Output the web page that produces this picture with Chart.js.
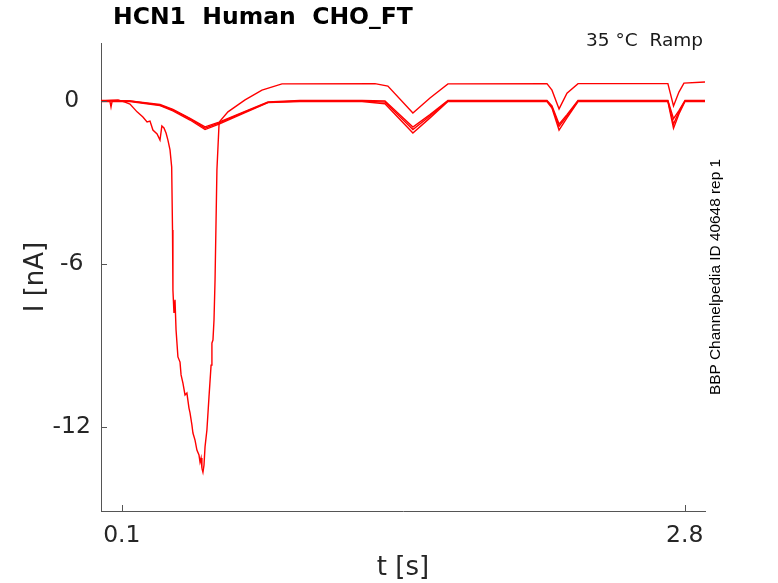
<!DOCTYPE html>
<html lang="en">
<head>
    <meta charset="UTF-8">
    <title>HCN1 Human CHO_FT</title>
    <script src="https://cdn.jsdelivr.net/npm/chart.js"></script>
    <style>
        html, body {
            margin: 0;
            padding: 0;
            background: #ffffff;
        }

        #plot {
            display: block;
        }
    </style>
</head>
<body>
    <canvas id="plot" width="778" height="583"></canvas>

    <script>
        // Trace with the big inward spike, later sitting above zero
        const tSpike = [0, 0.082, 0.115, 0.139, 0.173, 0.201, 0.221, 0.235, 0.249, 0.269,
            0.283, 0.292, 0.302, 0.312, 0.321, 0.331, 0.339, 0.343, 0.345, 0.350,
            0.355, 0.360, 0.369, 0.379, 0.384, 0.393, 0.403, 0.412, 0.422, 0.427,
            0.436, 0.441, 0.451, 0.460, 0.470, 0.475, 0.480, 0.484, 0.489, 0.494,
            0.499, 0.508, 0.518, 0.528, 0.532, 0.537, 0.542, 0.547, 0.556, 0.566,
            0.571, 0.609, 0.691, 0.772, 0.868, 1.314, 1.376, 1.496, 1.578, 1.664,
            2.139, 2.163, 2.197, 2.235, 2.288, 2.719, 2.746, 2.772, 2.796, 2.897];
        const iSpike = [0, 0.04, -0.04, -0.11, -0.40, -0.59, -0.77, -0.74, -1.07, -1.21,
            -1.44, -0.92, -0.99, -1.18, -1.44, -1.80, -2.43, -4.75, -6.96, -7.80,
            -7.32, -8.43, -9.42, -9.61, -10.08, -10.38, -10.82, -10.75, -11.30, -11.48,
            -11.92, -12.22, -12.48, -12.85, -13.03, -13.29, -13.14, -13.51, -13.66, -13.40,
            -12.73, -12.11, -10.89, -9.72, -8.91, -8.80, -8.06, -6.59, -2.54, -0.88,
            -0.74, -0.40, 0.04, 0.40, 0.63, 0.64, 0.55, -0.44, 0.11, 0.63,
            0.64, 0.40, -0.29, 0.29, 0.64, 0.64, -0.18, 0.33, 0.66, 0.70];

        // Three repeats that settle back at zero
        const tRep = [0, 0.043, 0.048, 0.053, 0.139, 0.283, 0.345, 0.427, 0.499, 0.566,
            0.691, 0.801, 0.954, 1.252, 1.362, 1.496, 1.578, 1.664, 2.139, 2.163,
            2.197, 2.235, 2.288, 2.719, 2.746, 2.772, 2.801, 2.897];
        const iRep1 = [0.02, 0.02, 0.02, 0.02, 0, -0.13, -0.31, -0.64, -0.95, -0.78,
            -0.38, -0.03, 0.02, 0.02, 0, -0.96, -0.50, 0.02, 0.02, -0.18,
            -0.85, -0.50, 0.02, 0.02, -0.65, -0.35, 0.02, 0.02];
        const iRep2 = [0, 0, 0, 0, 0, -0.15, -0.33, -0.66, -1.00, -0.81,
            -0.40, -0.05, 0, 0, -0.04, -1.05, -0.55, 0, 0, -0.22,
            -0.93, -0.55, 0, 0, -0.85, -0.40, 0, 0];
        const iRep3 = [-0.02, -0.02, -0.22, -0.02, -0.02, -0.17, -0.36, -0.70, -1.05, -0.85,
            -0.43, -0.06, -0.02, -0.02, -0.10, -1.18, -0.62, -0.02, -0.02, -0.26,
            -1.07, -0.62, -0.02, -0.02, -1.00, -0.48, -0.02, -0.02];

        const xTicks = [0.1, 2.8];
        const xTickLabels = ['0.1', '2.8'];
        const yTicks = [-12, -6, 0];
        const yTickLabels = ['-12', '-6', '0'];

        const chartTitle = 'HCN1  Human  CHO_FT';
        const conditionText = '35 °C  Ramp';
        const sourceText = 'BBP Channelpedia ID 40648 rep 1';

        const toPoints = (ts, vs) => ts.map((t, i) => ({ x: t, y: vs[i] }));

        const traceStyle = {
            borderColor: '#ff0000',
            borderWidth: 1.4,
            pointRadius: 0,
            fill: false,
            tension: 0
        };

        // MATLAB style inward ticks and the loose text around the axes
        const decorations = {
            id: 'decorations',
            afterDraw(chart) {
                const ctx = chart.ctx;
                const { left, right, top, bottom } = chart.chartArea;
                const xs = chart.scales.x;
                const ys = chart.scales.y;

                ctx.save();
                ctx.strokeStyle = '#555555';
                ctx.lineWidth = 1;
                xTicks.forEach(v => {
                    const px = Math.round(xs.getPixelForValue(v)) + 0.5;
                    ctx.beginPath();
                    ctx.moveTo(px, bottom);
                    ctx.lineTo(px, bottom - 6);
                    ctx.stroke();
                });
                yTicks.forEach(v => {
                    const py = Math.round(ys.getPixelForValue(v)) + 0.5;
                    ctx.beginPath();
                    ctx.moveTo(left, py);
                    ctx.lineTo(left + 6, py);
                    ctx.stroke();
                });

                ctx.fillStyle = '#000000';
                ctx.font = 'bold 23.5px "DejaVu Sans"';
                ctx.textAlign = 'left';
                ctx.textBaseline = 'middle';
                ctx.fillText(chartTitle, 113, 18);

                ctx.fillStyle = '#1a1a1a';
                ctx.font = '18.5px "DejaVu Sans"';
                ctx.textAlign = 'right';
                ctx.fillText(conditionText, 703, 41);

                ctx.translate(716, 277);
                ctx.rotate(-Math.PI / 2);
                ctx.font = '15.4px "Liberation Sans"';
                ctx.textAlign = 'center';
                ctx.fillStyle = '#000000';
                ctx.fillText(sourceText, 0, 0);
                ctx.restore();
            }
        };

        new Chart(document.getElementById('plot'), {
            type: 'line',
            data: {
                datasets: [
                    { ...traceStyle, data: toPoints(tRep, iRep1) },
                    { ...traceStyle, data: toPoints(tRep, iRep2) },
                    { ...traceStyle, data: toPoints(tRep, iRep3) },
                    { ...traceStyle, data: toPoints(tSpike, iSpike) }
                ]
            },
            options: {
                responsive: false,
                animation: false,
                devicePixelRatio: 1,
                layout: {
                    padding: { left: 0, right: 73, top: 43, bottom: 0 }
                },
                plugins: {
                    legend: { display: false },
                    tooltip: { enabled: false }
                },
                scales: {
                    x: {
                        type: 'linear',
                        min: 0,
                        max: 2.897,
                        afterBuildTicks: scale => {
                            scale.ticks = xTicks.map(v => ({ value: v }));
                        },
                        afterFit: scale => {
                            scale.height = 72;
                        },
                        grid: { display: false, drawTicks: false },
                        border: { display: true, color: '#555555', width: 1 },
                        ticks: {
                            autoSkip: false,
                            maxRotation: 0,
                            padding: 11,
                            color: '#262626',
                            font: { family: 'DejaVu Sans', size: 23.5 },
                            callback: (v) => xTickLabels[xTicks.indexOf(v)]
                        },
                        title: {
                            display: true,
                            text: 't [s]',
                            color: '#262626',
                            font: { family: 'DejaVu Sans', size: 26 },
                            padding: { top: 0, bottom: -1 }
                        }
                    },
                    y: {
                        type: 'linear',
                        min: -15.09,
                        max: 2.135,
                        afterBuildTicks: scale => {
                            scale.ticks = yTicks.map(v => ({ value: v }));
                        },
                        afterFit: scale => {
                            scale.width = 101;
                        },
                        grid: { display: false, drawTicks: false },
                        border: { display: true, color: '#555555', width: 1 },
                        ticks: {
                            autoSkip: false,
                            padding: 10,
                            crossAlign: 'center',
                            color: '#262626',
                            font: { family: 'DejaVu Sans', size: 23.5 },
                            callback: (v) => yTickLabels[yTicks.indexOf(v)]
                        },
                        title: {
                            display: true,
                            text: 'I [nA]',
                            color: '#262626',
                            font: { family: 'DejaVu Sans', size: 26 },
                            padding: { top: 21, bottom: 0 }
                        }
                    }
                }
            },
            plugins: [decorations]
        });
    </script>
</body>
</html>
